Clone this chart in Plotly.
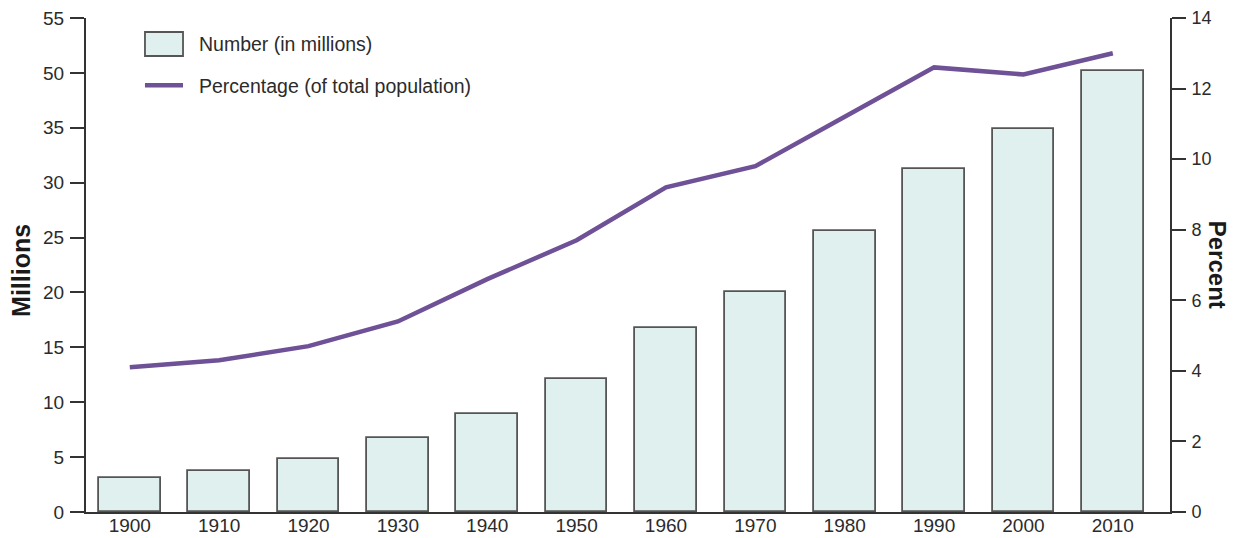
import plotly.graph_objects as go

years = [1900, 1910, 1920, 1930, 1940, 1950, 1960, 1970, 1980, 1990, 2000, 2010]
millions = [3.1, 3.7, 4.8, 6.7, 8.9, 12.1, 16.8, 20.0, 25.6, 31.2, 34.9, 40.2]
percent = [4.1, 4.3, 4.7, 5.4, 6.6, 7.7, 9.2, 9.8, 11.2, 12.6, 12.4, 13.0]

# left axis labels as printed on the original (break after 35)
left_ticks = [0, 5, 10, 15, 20, 25, 30, 35, 40, 45]
left_labels = ["0", "5", "10", "15", "20", "25", "30", "35", "50", "55"]

FONT = "Liberation Sans, Arial, Helvetica, sans-serif"
AXIS = "#333333"
TXT = "#2b2b2b"

fig = go.Figure()
fig.add_trace(go.Bar(x=years, y=millions, width=6.9,
                     marker=dict(color="#dff0ef", line=dict(color="#555555", width=1.8)),
                     name="Number (in millions)", showlegend=False))
fig.add_trace(go.Scatter(x=years, y=percent, yaxis="y2", mode="lines",
                         line=dict(color="#6e5196", width=4.5),
                         name="Percentage (of total population)", showlegend=False))

# page body has an 8px margin, so the figure is shrunk by that much
fig.update_layout(
    width=1229, height=530,
    margin=dict(l=78, r=67, t=10, b=26, autoexpand=False),
    plot_bgcolor="white", paper_bgcolor="white",
    font=dict(family=FONT, size=19, color=TXT),
    xaxis=dict(range=[1895.1, 2016.4], tickvals=years, showline=True, linecolor=AXIS,
               linewidth=2, ticks="", showgrid=False, zeroline=False, automargin=False,
               ticklabelstandoff=-5, ticklabeloverflow="allow"),
    yaxis=dict(range=[0, 45], tickvals=left_ticks, ticktext=left_labels, showline=True,
               linecolor=AXIS, linewidth=2, ticks="outside", ticklen=14, tickwidth=2,
               tickcolor=AXIS, showgrid=False, zeroline=False, automargin=False,
               ticklabelstandoff=2, ticklabeloverflow="allow"),
    yaxis2=dict(range=[0, 14], dtick=2, overlaying="y", side="right", showline=True,
                linecolor=AXIS, linewidth=2, ticks="outside", ticklen=14, tickwidth=2,
                tickcolor=AXIS, showgrid=False, zeroline=False, automargin=False,
                tickfont=dict(size=18), ticklabelstandoff=2, ticklabeloverflow="allow"),
    bargap=0,
)

# axis titles
fig.add_annotation(text="<b>Millions</b>", xref="paper", yref="paper", x=-0.060, y=0.49,
                   xanchor="center", yanchor="middle", textangle=-90, showarrow=False,
                   font=dict(size=25, color="#1a1a1a"))
fig.add_annotation(text="<b>Percent</b>", xref="paper", yref="paper", x=1.0445, y=0.50,
                   xanchor="center", yanchor="middle", textangle=90, showarrow=False,
                   font=dict(size=24, color="#1a1a1a"))

# legend drawn by hand to match the large swatches
fig.add_shape(type="rect", xref="paper", yref="paper", x0=0.0544, x1=0.0895,
              y0=0.9231, y1=0.9717, fillcolor="#dff0ef", line=dict(color="#555555", width=1.8))
fig.add_shape(type="line", xref="paper", yref="paper", x0=0.0544, x1=0.0895,
              y0=0.864, y1=0.864, line=dict(color="#6e5196", width=4.5))
fig.add_annotation(text="Number (in millions)", xref="paper", yref="paper", x=0.1024,
                   y=0.947, xanchor="left", yanchor="middle", showarrow=False,
                   font=dict(size=19.5, color=TXT))
fig.add_annotation(text="Percentage (of total population)", xref="paper", yref="paper",
                   x=0.1024, y=0.862, xanchor="left", yanchor="middle", showarrow=False,
                   font=dict(size=19.5, color=TXT))

fig.write_html("out.html")
